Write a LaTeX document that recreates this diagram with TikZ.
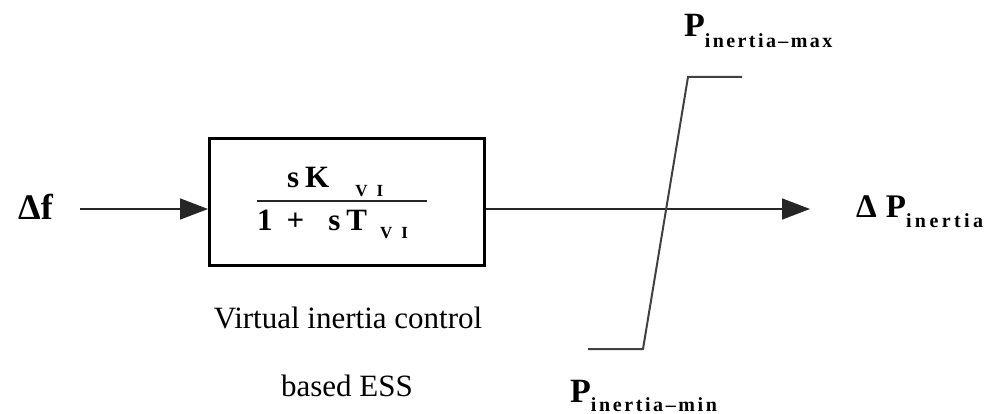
\documentclass[tikz,border=0pt]{standalone}
\usepackage{fontspec}
\setmainfont{Liberation Serif}
\usetikzlibrary{arrows.meta,positioning}
\tikzset{
  vi block/.style={draw=black, line width=3pt, minimum width=275pt, minimum height=127pt, inner sep=0pt},
  vi signal/.style={draw=black!85, line width=1.6pt, -{Triangle[length=28pt,width=21pt]}},
  vi limit/.style={draw=black!75, line width=2pt},
  vi rule/.style={draw=black!85, line width=2pt},
  vi label/.style={font=\fontsize{34}{38}\selectfont\bfseries, inner sep=0pt},
  vi frac/.style={font=\fontsize{31}{34}\selectfont\bfseries, inner sep=0pt, anchor=base west},
  vi caption/.style={font=\fontsize{31}{36}\selectfont, inner sep=0pt, anchor=base},
}
\newcommand{\visub}[3][12]{\raisebox{-#2}{\fontsize{20}{20}\selectfont\bfseries\addfontfeature{LetterSpace=#1}#3}}
\newcommand{\vivi}{\raisebox{-9pt}{\fontsize{17}{17}\selectfont\bfseries V\hspace{9pt}I}}

\begin{document}
\begin{tikzpicture}[x=1pt,y=-1pt]
  \useasboundingbox (0,0) rectangle (993,414);

  % transfer function block
  \node[vi block] (block) at (347,202) {};
  \node[vi frac] (num) at (287,188) {s\hspace{6pt}K\hspace{26pt}\vivi};
  \node[vi frac] (den) at (257,230) {1\hspace{14pt}+\hspace{24pt}s\hspace{6pt}T\hspace{13pt}\vivi};
  \draw[vi rule] (257,201) -- (427,201);

  % input and output
  \coordinate (fin) at (80,209);
  \coordinate (fout) at (810,209);
  \node[vi label, font=\fontsize{36}{40}\selectfont\bfseries, anchor=base east] (df) at (53,220) {Δf};
  \node[vi label, font=\fontsize{33}{38}\selectfont\bfseries, anchor=base west] (dp) at (856,218) {Δ\hspace{9pt}P\visub[17]{10pt}{inertia}};
  \draw[vi signal] (fin) -- (fin -| block.west);
  \draw[vi signal] (fin -| block.east) -- (fout);

  % saturation limits
  \draw[vi limit] (588,349) -- (643,349) -- (688,77) -- (742,77);
  \node[vi label, anchor=base west] (pmax) at (684,37) {P\visub[12]{11pt}{inertia–max}};
  \node[vi label, anchor=base west] (pmin) at (570,402) {P\visub[13]{9pt}{inertia–min}};

  % caption
  \node[vi caption] (cap1) at (348,328) {Virtual inertia control};
  \node[vi caption] (cap2) at (347,396) {based ESS};
\end{tikzpicture}
\end{document}
